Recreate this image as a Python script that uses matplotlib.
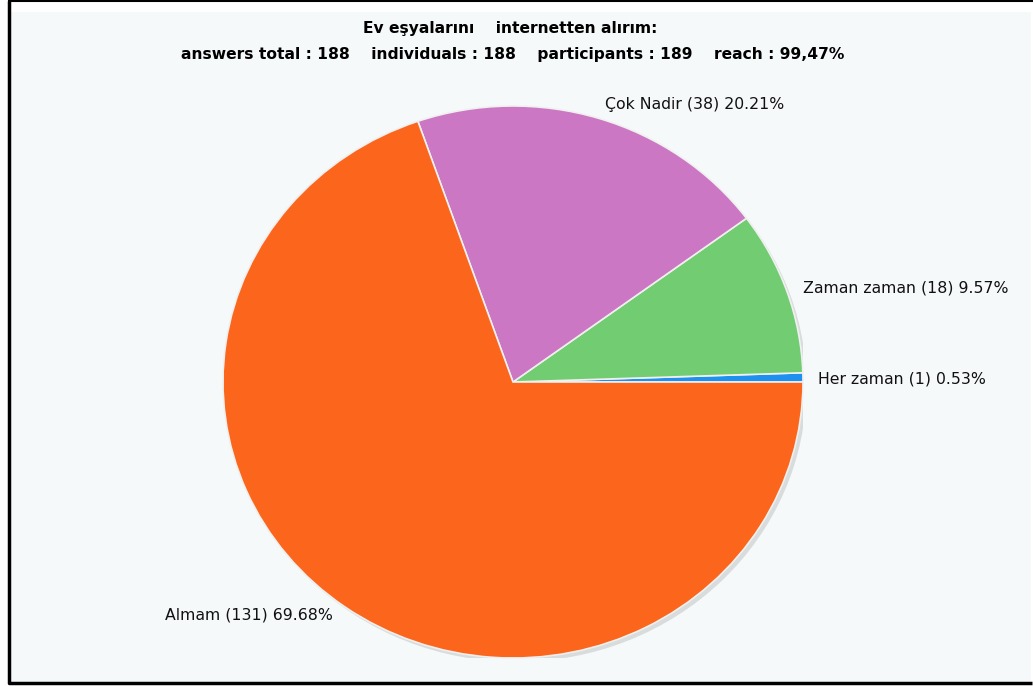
import matplotlib.pyplot as plt
from matplotlib.patches import Ellipse, Rectangle

categories = ['Her zaman', 'Zaman zaman', 'Çok Nadir', 'Almam']
counts = [1, 18, 38, 131]
percents = [0.53, 9.57, 20.21, 69.68]
colors = ['#1e90f0', '#72cc72', '#cc77c3', '#fc661c']

title_line1 = 'Ev eşyalarını    internetten alırım:'
title_line2 = 'answers total : 188    individuals : 188    participants : 189    reach : 99,47%'

W, H = 1033, 686
fig = plt.figure(figsize=(W / 100, H / 100), dpi=100)
fig.patch.set_facecolor('white')

# background panel + black frame
bg = fig.add_axes([0, 0, 1, 1])
bg.set_xlim(0, W)
bg.set_ylim(H, 0)
bg.axis('off')
bg.add_patch(Rectangle((9, 12), W - 11, H - 14, facecolor='#f6f9fa', edgecolor='none'))
bg.plot([8.5, 8.5, W - 1.5], [0.5, H - 3.5, H - 3.5], color='black', lw=2.5, solid_capstyle='butt')
bg.plot([8.5, W], [0.8, 0.8], color='black', lw=1.5)

bg.text(510, 28, title_line1, ha='center', va='center', fontsize=11.2, fontweight='bold')
bg.text(513, 54, title_line2, ha='center', va='center', fontsize=11.2, fontweight='bold')

# pie is slightly wider than tall: r_x=290 px, r_y=276 px, centre (513, 382)
cx, cy, rx, ry = 513, 382, 290, 276
ax = fig.add_axes([(cx - rx) / W, (H - cy - ry) / H, 2 * rx / W, 2 * ry / H])
ax.axis('off')

# soft shadow
ax.add_patch(Ellipse((0.012, -0.014), 2.0, 2.0, facecolor='#d9dcdd', edgecolor='none', zorder=0))

wedges, _ = ax.pie(counts, colors=colors, startangle=0, counterclock=True, radius=1,
                   wedgeprops=dict(edgecolor='#f0f0f0', linewidth=1.2), frame=False)
for w in wedges:
    w.set_zorder(2)
ax.set_xlim(-1, 1)
ax.set_ylim(-1, 1)
ax.set_aspect('auto')

labels = [f'{c} ({n}) {p:.2f}%' for c, n, p in zip(categories, counts, percents)]
label_pos = [(1.052, 0.011), (1.0, 0.341), (0.317, 1.004), (-1.2, -0.844)]
for lab, (x, y) in zip(labels, label_pos):
    ax.text(x, y, lab, ha='left', va='center', fontsize=11.3, color='#111111', clip_on=False)

fig.savefig('out.png', dpi=100, facecolor=fig.get_facecolor())
